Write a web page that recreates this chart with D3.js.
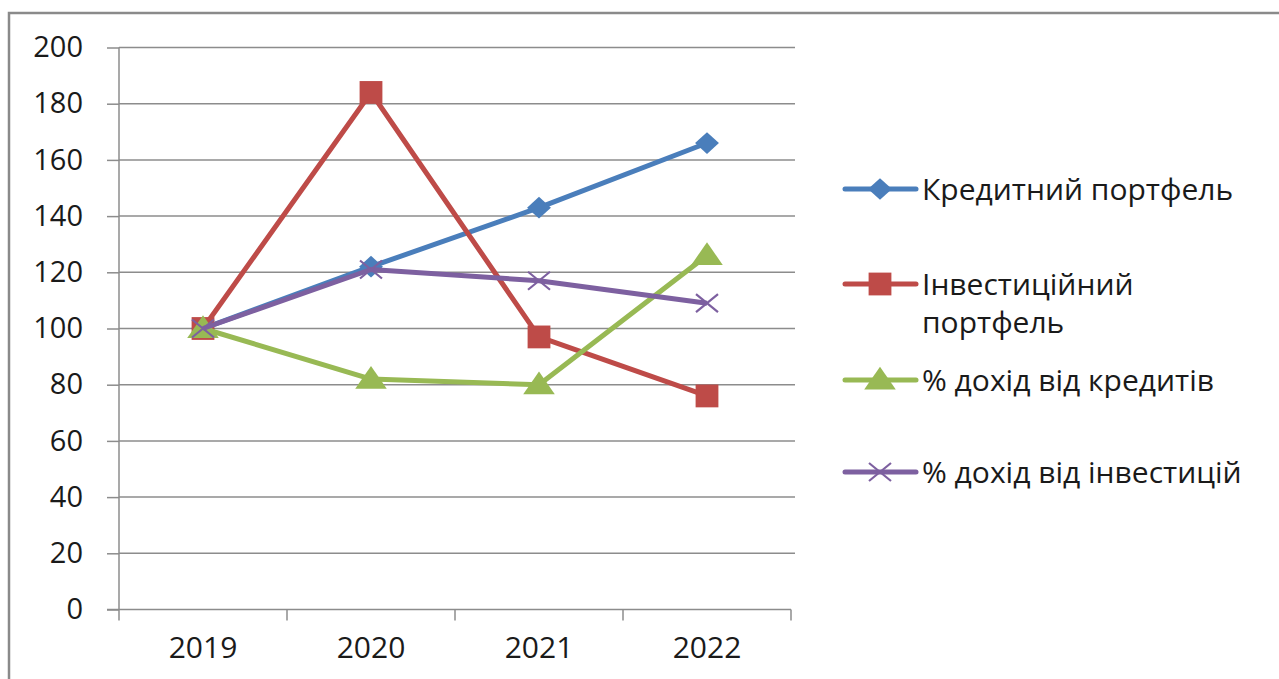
<!DOCTYPE html>
<html>
<head>
<meta charset="utf-8">
<script src="https://cdn.jsdelivr.net/npm/d3@7"></script>
<style>
  html, body { margin: 0; padding: 0; background: #fff; }
  svg { display: block; }
  text { font-family: "Open Sans", "Noto Sans", sans-serif; fill: #1a1a1a; }
</style>
</head>
<body>
<svg id="chart" width="1279" height="679"></svg>
<script>
// Years on the category axis
const years = ["2019", "2020", "2021", "2022"];
// Index values (2019 = 100)
const creditPortfolio = [100, 122, 143, 166];
const investPortfolio = [100, 184, 97, 76];
const creditIncome = [100, 82, 80, 126];
const investIncome = [100, 121, 117, 109];
const yTicks = [0, 20, 40, 60, 80, 100, 120, 140, 160, 180, 200];

const seriesNames = ["Кредитний портфель", "Інвестиційний портфель", "% дохід від кредитів", "% дохід від інвестицій"];
const legendLines = [["Кредитний портфель"], ["Інвестиційний", "портфель"], ["% дохід від кредитів"], ["% дохід від інвестицій"]];
const seriesColors = ["#4A7EBB", "#BE4B48", "#98B954", "#7D60A0"];
const seriesMarkers = ["diamond", "square", "triangle", "cross"];

const series = [creditPortfolio, investPortfolio, creditIncome, investIncome].map((v, i) => ({
  name: seriesNames[i], values: v, color: seriesColors[i], marker: seriesMarkers[i], lines: legendLines[i]
}));

const svg = d3.select("#chart");

// outer chart frame (partially visible)
svg.append("path")
  .attr("d", "M9,679 L9,13 L1279,13")
  .attr("fill", "none").attr("stroke", "#8a8a8a").attr("stroke-width", 2.5);

const plot = { left: 119, right: 791, top: 47.5, bottom: 609.5 };

const x = d3.scaleBand().domain(years).range([plot.left, plot.right]);
const y = d3.scaleLinear().domain([0, 200]).range([plot.bottom, plot.top]);

// horizontal gridlines
svg.append("g")
  .selectAll("line").data(yTicks.filter(t => t > 0)).join("line")
  .attr("x1", plot.left).attr("x2", plot.right + 4)
  .attr("y1", d => y(d)).attr("y2", d => y(d))
  .attr("stroke", "#8c8c8c").attr("stroke-width", 1.5);

// y axis
const yAxis = svg.append("g").attr("transform", `translate(${plot.left},0)`)
  .call(d3.axisLeft(y).tickValues(yTicks).tickSize(12).tickPadding(24).tickFormat(d3.format("d")));
yAxis.select(".domain").attr("stroke", "#8c8c8c").attr("stroke-width", 1.5)
  .attr("d", `M0,${plot.top}V${plot.bottom}`);
yAxis.selectAll(".tick line").attr("stroke", "#8c8c8c").attr("stroke-width", 1.5);
yAxis.selectAll(".tick text").style("font-size", "29px").attr("fill", "#1a1a1a")
  .style("font-family", "'Open Sans', sans-serif");

// x axis
const xAxis = svg.append("g").attr("transform", `translate(0,${plot.bottom})`)
  .call(d3.axisBottom(x).tickSize(0).tickPadding(27));
xAxis.select(".domain").attr("stroke", "#8c8c8c").attr("stroke-width", 1.5)
  .attr("d", `M${plot.left - 12},0H${plot.right}`);
xAxis.selectAll(".tick text").style("font-size", "30px").attr("fill", "#1a1a1a")
  .style("font-family", "'Open Sans', sans-serif");
// category boundary tick marks
const bounds = years.map(yr => x(yr)).concat([plot.right]);
svg.append("g").selectAll("line").data(bounds).join("line")
  .attr("x1", d => d).attr("x2", d => d)
  .attr("y1", plot.bottom).attr("y2", plot.bottom + 11)
  .attr("stroke", "#8c8c8c").attr("stroke-width", 1.5);

const cx = yr => x(yr) + x.bandwidth() / 2;

function drawMarker(g, type, color, px, py) {
  if (type === "diamond") {
    g.append("path").attr("d", d3.symbol(d3.symbolDiamond2, 300)())
      .attr("transform", `translate(${px},${py}) scale(1.1,1)`).attr("fill", color);
  } else if (type === "square") {
    g.append("path").attr("d", d3.symbol(d3.symbolSquare, 520)())
      .attr("transform", `translate(${px},${py})`).attr("fill", color);
  } else if (type === "triangle") {
    g.append("path").attr("d", d3.symbol(d3.symbolTriangle, 300)())
      .attr("transform", `translate(${px},${py + 2}) scale(1.2,1)`).attr("fill", color);
  } else if (type === "cross") {
    g.append("path").attr("d", "M-11,-9L11,9M-11,9L11,-9")
      .attr("transform", `translate(${px},${py})`)
      .attr("stroke", color).attr("stroke-width", 2.2).attr("fill", "none");
  }
}

const line = d3.line().x((d, i) => cx(years[i])).y(d => y(d));

series.forEach(s => {
  const g = svg.append("g");
  g.append("path").datum(s.values).attr("d", line)
    .attr("fill", "none").attr("stroke", s.color).attr("stroke-width", 5)
    .attr("stroke-linejoin", "round");
  s.values.forEach((v, i) => drawMarker(g, s.marker, s.color, cx(years[i]), y(v)));
});

// legend
const legendY = [189, 284, 380, 472];
const leg = svg.append("g");
series.forEach((s, i) => {
  const ly = legendY[i];
  leg.append("line").attr("x1", 845).attr("x2", 916).attr("y1", ly).attr("y2", ly)
    .attr("stroke", s.color).attr("stroke-width", 5).attr("stroke-linecap", "round");
  drawMarker(leg, s.marker, s.color, 880, ly);
  s.lines.forEach((t, j) => {
    leg.append("text").attr("x", 922).attr("y", ly + j * 38).attr("dy", "0.35em")
      .style("font-size", "30px").text(t);
  });
});
</script>
</body>
</html>
